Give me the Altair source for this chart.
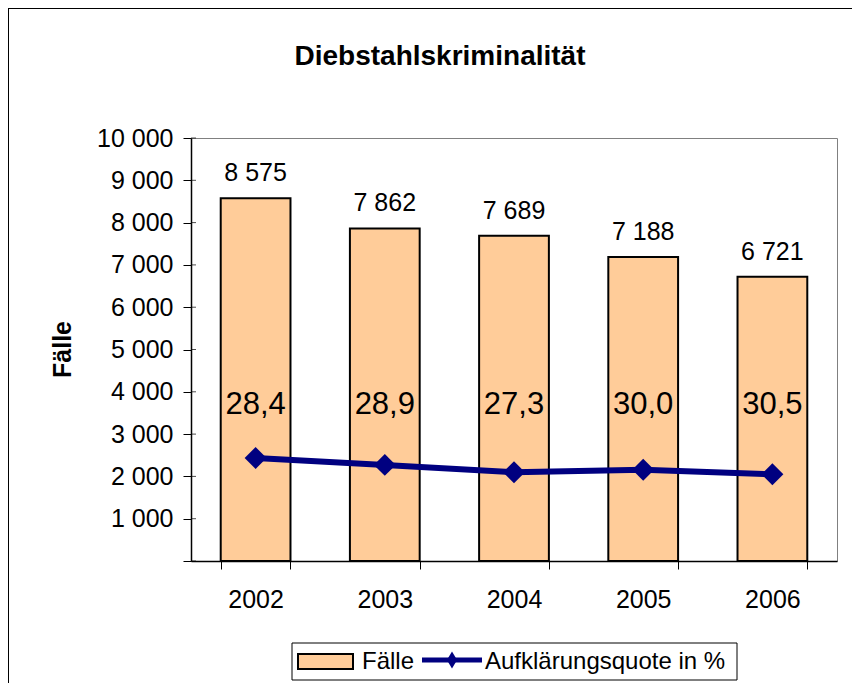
import altair as alt
import pandas as pd

# ---- data ----
years = ["2002", "2003", "2004", "2005", "2006"]
faelle = [8575, 7862, 7689, 7188, 6721]
quote = [28.4, 28.9, 27.3, 30.0, 30.5]
y_ticks = [0, 1000, 2000, 3000, 4000, 5000, 6000, 7000, 8000, 9000, 10000]
series = ["Fälle", "Aufklärungsquote in %"]
chart_title = "Diebstahlskriminalität"
y_title = "Fälle"

df = pd.DataFrame({"Jahr": years, "Faelle": faelle, "Quote": quote})
df["FaelleLabel"] = [f"{v:,}".replace(",", " ") for v in faelle]
df["QuoteLabel"] = [f"{v:.1f}".replace(".", ",") for v in quote]
ticks_df = pd.DataFrame({"Faelle": y_ticks})

FONT = "Liberation Sans"
W, H = 646, 423
PEACH = "#FFCC99"
NAVY = "#000080"

xscale = alt.Scale(paddingInner=0.46, paddingOuter=0.23)
yscale = alt.Scale(domain=[0, 10000], nice=False)

x_main = alt.X(
    "Jahr:N", sort=years, scale=xscale, title=None,
    axis=alt.Axis(labelAngle=0, tickBand="extent", tickSize=8, tickColor="black",
                  domainColor="black", domainWidth=1.5, labelFontSize=25,
                  labelColor="black", labelPadding=18, labelFont=FONT),
)
x_plain = alt.X("Jahr:N", sort=years, scale=xscale, title=None)

y_main = alt.Y(
    "Faelle:Q", scale=yscale, title=y_title,
    axis=alt.Axis(values=y_ticks, tickSize=8, tickColor="black", domainColor="black",
                  domainWidth=1.5, labelFontSize=25, labelColor="black", labelPadding=10,
                  labelFont=FONT,
                  labelExpr="datum.value == 0 ? '' : replace(format(datum.value, ','), ',', ' ')",
                  titleFont=FONT, titleFontSize=25, titleFontWeight="bold", titleColor="black",
                  titleAngle=270, titleX=-129, titleY=211, titleAlign="center",
                  titleBaseline="middle", grid=False),
)

base = alt.Chart(df)

bars = base.mark_bar(fill=PEACH, stroke="black", strokeWidth=2).encode(x=x_main, y=y_main)

bar_labels = base.mark_text(font=FONT, fontSize=25, dy=-17, baseline="alphabetic",
                            color="black").encode(
    x=x_plain, y=alt.Y("Faelle:Q", scale=yscale, title=y_title), text="FaelleLabel:N")

solved = base.transform_calculate(Aufg="datum.Faelle * datum.Quote / 100")

line = solved.mark_line(color=NAVY, strokeWidth=6).encode(
    x=x_plain, y=alt.Y("Aufg:Q", scale=yscale, title=y_title))

points = solved.mark_point(shape="diamond", filled=True, size=480, color=NAVY,
                           opacity=1).encode(
    x=x_plain, y=alt.Y("Aufg:Q", scale=yscale, title=y_title))

quote_labels = base.mark_text(font=FONT, fontSize=31, baseline="middle",
                              color="black").encode(
    x=x_plain, y=alt.value(267), text="QuoteLabel:N")

# inner half of the crossing y-axis ticks
inner_ticks = alt.Chart(ticks_df).mark_tick(color="black", thickness=1, size=5).encode(
    y=alt.Y("Faelle:Q", scale=yscale, title=y_title), x=alt.value(2.5))

# ---- decorations: title, legend, frame ----
one = alt.Chart(pd.DataFrame({"k": [0]}))

title_mark = one.mark_text(font=FONT, fontSize=28, fontWeight="bold", align="center",
                           baseline="middle", color="black").encode(
    x=alt.value(249), y=alt.value(-81), text=alt.value(chart_title))

leg_box = one.mark_rect(fill="white", stroke="black", strokeWidth=1).encode(
    x=alt.value(101), x2=alt.value(546), y=alt.value(505), y2=alt.value(542))
leg_swatch = one.mark_rect(fill=PEACH, stroke="black", strokeWidth=2).encode(
    x=alt.value(107), x2=alt.value(162), y=alt.value(516), y2=alt.value(531))
leg_t1 = one.mark_text(font=FONT, fontSize=24, align="left", baseline="middle",
                       color="black").encode(
    x=alt.value(171), y=alt.value(524), text=alt.value(series[0]))
leg_line = one.mark_rule(color=NAVY, strokeWidth=5).encode(
    x=alt.value(231), x2=alt.value(291), y=alt.value(522))
leg_pt = one.mark_point(shape="M0,-1L0.6,0L0,1L-0.6,0Z", filled=True, size=289,
                        color=NAVY, opacity=1).encode(x=alt.value(261), y=alt.value(522))
leg_t2 = one.mark_text(font=FONT, fontSize=24, align="left", baseline="middle",
                       color="black").encode(
    x=alt.value(294), y=alt.value(524), text=alt.value(series[1]))

frame = one.mark_rect(fill="transparent", stroke="black", strokeWidth=2).encode(
    x=alt.value(-183), x2=alt.value(760), y=alt.value(-130), y2=alt.value(700))

chart = alt.layer(
    bars, bar_labels, line, points, quote_labels, inner_ticks,
    title_mark, leg_box, leg_swatch, leg_t1, leg_line, leg_pt, leg_t2, frame,
).properties(
    width=W, height=H,
    padding={"left": 183, "top": 130, "right": 15, "bottom": 122},
    autosize="none",
).configure_view(
    stroke="#808080", strokeWidth=1
).configure_axis(grid=False)

chart.save("out.html", embed_options={"renderer": "svg", "actions": False})
